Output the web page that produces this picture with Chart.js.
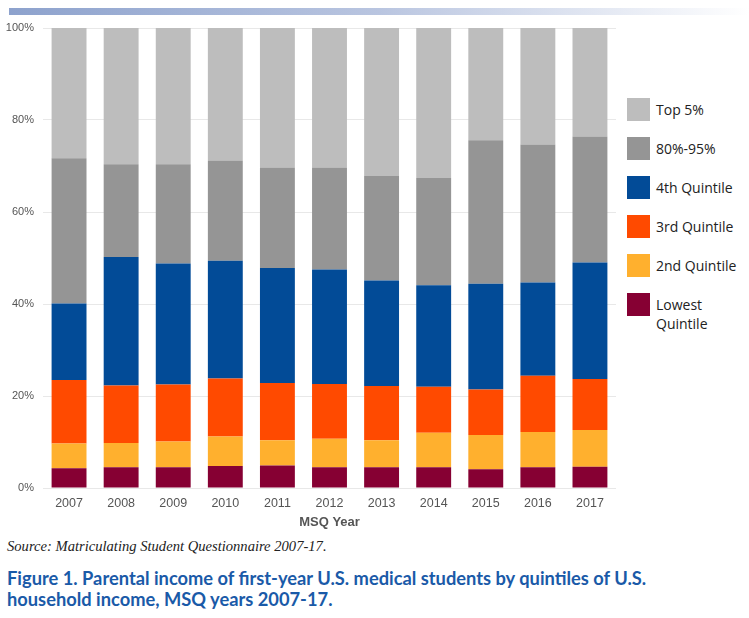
<!DOCTYPE html>
<html>
<head>
<meta charset="utf-8">
<script src="https://cdn.jsdelivr.net/npm/chart.js@4.4.0/dist/chart.umd.min.js"></script>
<style>
  body { margin: 0; background: #fff; width: 749px; height: 618px; overflow: hidden; position: relative; }
  #topbar { position: absolute; left: 9px; top: 8px; width: 740px; height: 7px;
    background: linear-gradient(to right, #8da2cd, #b9c5e0 50%, #ffffff); }
  #wrap { position: absolute; left: 0; top: 0; width: 620px; height: 530px; }
  #legend { position: absolute; left: 627px; top: 0; font-family: "Open Sans", sans-serif; font-size: 14px; color: #222; }
  .item { position: absolute; left: 0; width: 120px; }
  .box { position: absolute; left: 0; top: 0; width: 23px; height: 23px; }
  .lbl { position: absolute; left: 29px; top: 2px; line-height: 19px; white-space: nowrap; }
  #source { position: absolute; left: 7px; top: 538px; font-family: "Liberation Serif", serif; font-style: italic; font-size: 14.6px; color: #222; }
  #caption { position: absolute; left: 7px; top: 568px; font-family: Lato, sans-serif; font-weight: 700; font-size: 18.3px; line-height: 21px; color: #1a5aa8; }
</style>
</head>
<body>
<div id="topbar"></div>
<div id="wrap"><canvas id="chart"></canvas></div>
<div id="legend"></div>
<div id="source">Source: Matriculating Student Questionnaire 2007-17.</div>
<div id="caption">Figure 1. Parental income of first-year U.S. medical students by quintiles of U.S.<br>household income, MSQ years 2007-17.</div>
<script>
const years = ["2007","2008","2009","2010","2011","2012","2013","2014","2015","2016","2017"];
const yTicks = [0, 20, 40, 60, 80, 100];

// segment shares (%) bottom to top
const lowest   = [4.3, 4.5, 4.5, 4.8, 4.9, 4.5, 4.5, 4.5, 4.1, 4.5, 4.6];
const second   = [5.4, 5.3, 5.6, 6.4, 5.5, 6.2, 5.9, 7.5, 7.4, 7.7, 8.0];
const third    = [13.8, 12.5, 12.4, 12.6, 12.4, 11.9, 11.8, 10.0, 9.9, 12.2, 11.1];
const fourth   = [16.6, 27.9, 26.3, 25.6, 25.0, 24.9, 22.9, 22.1, 23.0, 20.3, 25.3];
const p80to95  = [31.6, 20.2, 21.6, 21.8, 21.9, 22.2, 22.7, 23.3, 31.2, 30.0, 27.4];
const top5     = [28.3, 29.6, 29.6, 28.8, 30.3, 30.3, 32.2, 32.6, 24.4, 25.3, 23.6];

const series = [
  { label: "Lowest\nQuintile", data: lowest, color: "#860033" },
  { label: "2nd Quintile", data: second, color: "#ffb02e" },
  { label: "3rd Quintile", data: third, color: "#ff4a00" },
  { label: "4th Quintile", data: fourth, color: "#024b97" },
  { label: "80%-95%", data: p80to95, color: "#959595" },
  { label: "Top 5%", data: top5, color: "#bdbdbd" }
];

const ctx = document.getElementById("chart").getContext("2d");
new Chart(ctx, {
  type: "bar",
  data: {
    labels: years,
    datasets: series.map(s => ({
      label: s.label,
      data: s.data,
      backgroundColor: s.color,
      borderWidth: 0,
      categoryPercentage: 1,
      barPercentage: 0.67
    }))
  },
  options: {
    responsive: true,
    maintainAspectRatio: false,
    animation: false,
    layout: { padding: { top: 28, right: 4, bottom: 0, left: 0 } },
    plugins: { legend: { display: false }, tooltip: { enabled: false } },
    scales: {
      x: {
        stacked: true,
        grid: { display: false, drawTicks: false },
        border: { display: false },
        ticks: { color: "#555", font: { family: "Liberation Sans", size: 12.5 }, padding: 8 },
        title: { display: true, text: "MSQ Year", color: "#555", font: { family: "Liberation Sans", size: 13, weight: "bold" }, padding: { top: 2, bottom: 0 } },
        afterFit: function (scale) { scale.height = 42; }
      },
      y: {
        stacked: true,
        min: 0,
        max: 100,
        afterBuildTicks: function (scale) { scale.ticks = yTicks.map(v => ({ value: v })); },
        grid: { color: "#e8e8e8", drawTicks: false },
        border: { display: false },
        ticks: { color: "#555", font: { family: "Liberation Sans", size: 11 }, padding: 9, callback: v => v + "%" },
        afterFit: function (scale) { scale.width = 43; }
      }
    }
  }
});

// legend, top item first
const legend = document.getElementById("legend");
const legendTop = [98, 137, 176, 215, 254, 293];
series.slice().reverse().forEach((s, i) => {
  const item = document.createElement("div");
  item.className = "item";
  item.style.top = legendTop[i] + "px";
  item.innerHTML = `<div class="box" style="background:${s.color}"></div><div class="lbl">${s.label.replace("\n", "<br>")}</div>`;
  legend.appendChild(item);
});
</script>
</body>
</html>
